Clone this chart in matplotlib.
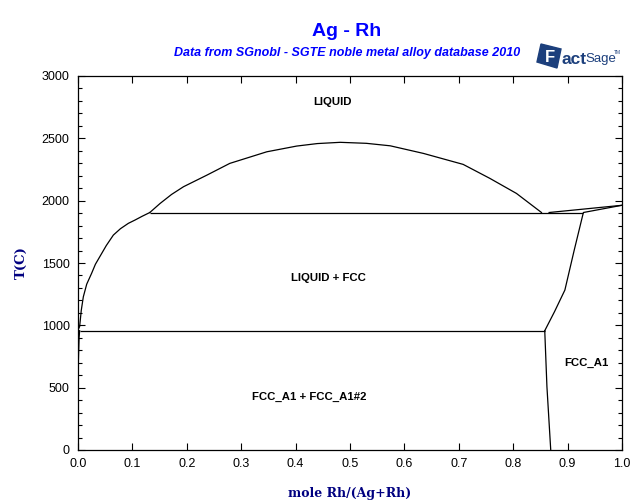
import numpy as np
import matplotlib.pyplot as plt
from matplotlib.ticker import MultipleLocator
from matplotlib.patches import Polygon

plt.rcParams['font.family'] = ['Liberation Sans', 'DejaVu Sans']

# phase boundaries (x = mole Rh/(Ag+Rh), T in C)
liq_left_x = [0.0, 0.003, 0.006, 0.0098, 0.016, 0.025, 0.032, 0.040, 0.052,
              0.065, 0.078, 0.0925, 0.105, 0.118, 0.132]
liq_left_T = [962, 990, 1120, 1229, 1330, 1417, 1490, 1550, 1640,
              1724, 1775, 1818, 1845, 1875, 1905]

dome_x = [0.132, 0.151, 0.172, 0.194, 0.237, 0.279, 0.347, 0.402, 0.440,
          0.482, 0.530, 0.574, 0.635, 0.708, 0.757, 0.806, 0.852]
dome_T = [1905, 1978, 2050, 2112, 2205, 2299, 2392, 2438, 2458,
          2468, 2460, 2440, 2379, 2291, 2179, 2058, 1905]

liq_right_x = [0.866, 1.0]
liq_right_T = [1905, 1963]

sol_right_x = [1.0, 0.929, 0.912, 0.895, 0.876, 0.858]
sol_right_T = [1963, 1905, 1600, 1283, 1110, 957]

solvus_right_x = [0.858, 0.862, 0.869]
solvus_right_T = [957, 508, 0]

solvus_left_x = [0.0, 0.002, 0.003]
solvus_left_T = [615, 900, 957]

hline_hi = (0.132, 0.929, 1905)
hline_lo = (0.003, 0.858, 957)

labels = [("LIQUID", 0.467, 2790), ("LIQUID + FCC", 0.460, 1380),
          ("FCC_A1 + FCC_A1#2", 0.425, 425), ("FCC_A1", 0.934, 700)]

fig = plt.figure(figsize=(6.4, 5.04), dpi=100)
ax = fig.add_axes([78/640, 54/504, 544/640, 374/504])

lw = 0.9
ax.plot(liq_left_x, liq_left_T, c='black', lw=lw)
ax.plot(dome_x, dome_T, c='black', lw=lw)
ax.plot(liq_right_x, liq_right_T, c='black', lw=lw)
ax.plot(sol_right_x, sol_right_T, c='black', lw=lw)
ax.plot(solvus_right_x, solvus_right_T, c='black', lw=lw)
ax.plot(solvus_left_x, solvus_left_T, c='black', lw=lw)
ax.hlines(hline_hi[2], hline_hi[0], hline_hi[1], colors='black', lw=lw)
ax.hlines(hline_lo[2], hline_lo[0], hline_lo[1], colors='black', lw=lw)

for txt, x, y in labels:
    ax.text(x, y, txt, ha='center', va='center', fontsize=8.2, fontweight='bold')

ax.set_xlim(0, 1)
ax.set_ylim(0, 3000)
ax.yaxis.set_major_locator(MultipleLocator(500))
ax.yaxis.set_minor_locator(MultipleLocator(100))
ax.set_xticks(np.arange(0, 1.01, 0.1))
ax.set_xticklabels(['%.1f' % v for v in np.arange(0, 1.01, 0.1)])
ax.tick_params(which='both', direction='in', top=True, right=True,
               labelsize=9, width=0.8)
ax.tick_params(which='major', length=5, pad=6)
ax.tick_params(which='minor', length=3)
for s in ax.spines.values():
    s.set_linewidth(0.9)

ax.set_xlabel('mole Rh/(Ag+Rh)', family='serif', fontweight='bold',
              color='#000080', fontsize=9, labelpad=12)
ax.set_ylabel('T(C)', family='serif', fontweight='bold',
              color='#000080', fontsize=9.5, labelpad=10)

fig.text(347/640, 1 - 31/504, 'Ag - Rh', ha='center', va='center',
         color='blue', fontsize=14, fontweight='bold')
fig.text(347/640, 1 - 53/504,
         'Data from SGnobl - SGTE noble metal alloy database 2010',
         ha='center', va='center', color='blue', fontsize=9,
         fontweight='bold', style='italic')

# FactSage logo, approximated
navy = '#1c3f7c'
logo = Polygon([(541/640, 1 - 44/504), (561/640, 1 - 49/504),
                (557/640, 1 - 68/504), (537/640, 1 - 62/504)],
               closed=True, transform=fig.transFigure, color=navy)
fig.patches.append(logo)
fig.text(550/640, 1 - 58/504, 'F', ha='center', va='center',
         color='white', fontsize=12, fontweight='bold')
fig.text(574/640, 1 - 59/504, 'act', ha='center', va='center',
         color=navy, fontsize=12.5, fontweight='bold')
fig.text(601/640, 1 - 59/504, 'Sage', ha='center', va='center',
         color=navy, fontsize=9.5)
fig.text(617/640, 1 - 52/504, 'TM', ha='center', va='center',
         color=navy, fontsize=3.5)

fig.savefig('out.png', dpi=100)
